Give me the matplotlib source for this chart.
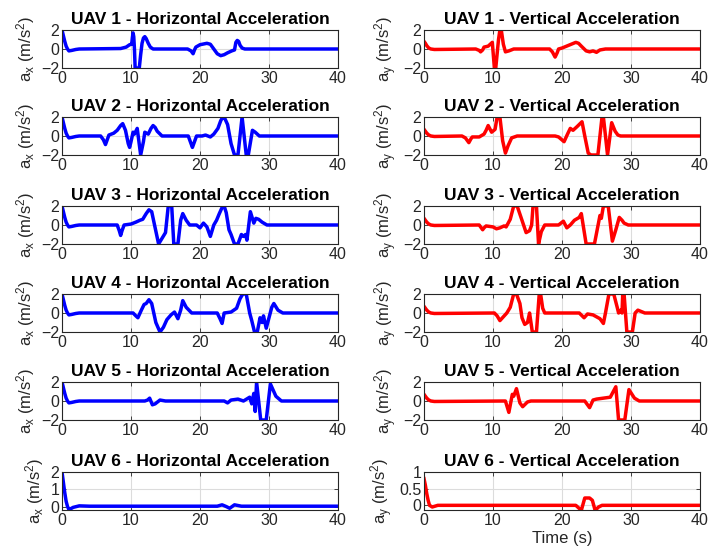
import numpy as np
import matplotlib.pyplot as plt

plt.rcParams['font.family'] = ['Liberation Sans', 'DejaVu Sans']
plt.rcParams['mathtext.fontset'] = 'custom'
plt.rcParams['mathtext.rm'] = 'Liberation Sans'
plt.rcParams['mathtext.it'] = 'Liberation Sans'

######### DATA #######################################

## UAV 1
uav1_ax_t = [0, 0.2, 0.4, 0.6, 0.8, 1.0, 1.4, 2.0, 2.5, 8.5, 9.3, 9.8, 10.1, 10.2, 10.3, 10.4, 10.5, 10.6, 11.2, 11.4, 11.6, 11.8, 12.0, 12.2, 12.5, 12.8, 13.2, 18.2, 18.7, 19.0, 19.2, 19.4, 20.0, 21.0, 21.5, 22.0, 22.5, 23.0, 23.5, 24.0, 24.6, 25.0, 25.2, 25.4, 25.6, 25.8, 26.1, 26.5, 40]
uav1_ax = [2.0, 1.4, 0.8, 0.3, 0.0, -0.2, -0.15, -0.05, 0.0, 0.05, 0.2, 0.45, 0.5, 1.2, 1.7, 1.3, 0.0, -2.0, -2.0, -0.6, 0.6, 1.15, 1.3, 1.1, 0.6, 0.2, 0.0, 0.0, -0.2, -0.5, -0.1, 0.2, 0.45, 0.6, 0.5, 0.0, -0.5, -0.7, -0.6, -0.4, -0.2, -0.1, 0.7, 0.9, 0.8, 0.4, 0.1, 0.0, 0.0]

uav1_ay_t = [0, 0.2, 0.4, 0.7, 1.0, 1.5, 7.5, 8.0, 8.2, 8.5, 8.7, 9.3, 9.9, 10.2, 10.4, 10.8, 11.0, 11.2, 11.5, 11.8, 12.3, 13.0, 18.2, 18.6, 19.0, 19.3, 19.5, 20.0, 21.0, 22.0, 22.4, 22.8, 23.5, 24.0, 24.5, 25.0, 25.5, 26.3, 40]
uav1_ay = [0.8, 0.6, 0.35, 0.1, 0.0, -0.05, 0.0, -0.15, -0.3, -0.1, 0.2, 0.3, 0.7, -2.0, -2.0, 1.0, 2.0, 2.0, 0.5, -0.3, -0.2, 0.0, 0.0, -0.3, -0.85, -0.4, 0.0, 0.1, 0.4, 0.7, 0.6, 0.3, -0.2, -0.3, -0.2, -0.35, -0.1, 0.0, 0.0]

## UAV 2
uav2_ax_t = [0, 0.2, 0.4, 0.6, 0.8, 1.0, 1.4, 2.0, 2.5, 5.6, 6.0, 6.3, 6.6, 6.8, 7.5, 8.0, 8.5, 8.8, 9.2, 9.6, 9.8, 10.0, 10.3, 10.5, 10.9, 11.4, 11.8, 12.0, 12.5, 12.9, 13.2, 13.5, 13.8, 14.5, 18.3, 18.7, 18.9, 19.2, 19.5, 20.3, 20.8, 21.5, 22.0, 22.6, 23.0, 23.3, 23.5, 24.0, 24.5, 25.0, 25.5, 26.1, 26.7, 27.0, 27.6, 28.0, 28.6, 40]
uav2_ax = [2.0, 1.4, 0.8, 0.3, 0.0, -0.2, -0.15, -0.05, 0.0, 0.0, -0.4, -0.9, -0.3, 0.1, 0.3, 0.6, 1.1, 1.3, 0.6, -0.8, -1.2, -0.6, 0.4, 0.2, 0.8, -2.0, -0.6, 0.4, 0.2, 0.8, 1.1, 0.9, 0.5, 0.0, 0.0, -0.8, -1.2, -0.6, 0.0, 0.0, 0.1, -0.1, 0.2, 0.8, 1.6, 2.0, 2.0, 1.2, -0.8, -2.0, -2.0, 2.0, -2.0, -2.0, 0.6, 0.4, 0.0, 0.0]

uav2_ay_t = [0, 0.2, 0.4, 0.7, 1.0, 1.5, 5.5, 6.0, 6.5, 6.8, 7.0, 8.0, 8.7, 9.0, 9.3, 9.8, 10.3, 10.6, 11.0, 11.4, 11.8, 12.2, 12.7, 13.5, 18.5, 19.0, 19.5, 20.3, 20.8, 21.2, 21.6, 22.2, 22.9, 23.3, 23.8, 24.2, 25.2, 25.8, 26.0, 26.6, 27.2, 27.7, 28.1, 28.5, 40]
uav2_ay = [0.7, 0.5, 0.3, 0.1, 0.0, -0.05, 0.0, -0.2, -0.7, -0.3, -0.1, -0.1, 0.2, 0.6, 1.1, 0.4, 0.7, 2.0, 2.0, -0.5, -1.8, -1.0, -0.2, 0.0, 0.0, 0.0, -0.1, -0.6, 0.2, 0.8, 0.6, 1.0, 1.5, 0.0, -1.8, -2.0, -2.0, 2.0, 2.0, -2.0, 1.4, 0.5, 0.1, 0.0, 0.0]

## UAV 3
uav3_ax_t = [0, 0.2, 0.4, 0.6, 0.8, 1.0, 1.4, 2.0, 2.5, 8.0, 8.3, 8.5, 8.7, 9.0, 10.0, 10.7, 11.3, 11.7, 12.2, 12.6, 13.0, 14.0, 15.0, 15.4, 15.9, 16.2, 16.8, 17.2, 17.5, 18.0, 18.5, 19.5, 20.0, 20.5, 21.0, 21.5, 22.0, 22.4, 22.8, 23.3, 23.5, 23.8, 24.2, 24.5, 25.0, 25.5, 26.0, 26.3, 26.6, 26.8, 27.3, 27.8, 28.1, 28.5, 29.0, 29.7, 40]
uav3_ax = [2.0, 1.4, 0.8, 0.3, 0.0, -0.2, -0.15, -0.05, 0.0, 0.0, -0.6, -1.1, -0.6, 0.0, 0.1, 0.3, 0.5, 0.6, 1.2, 1.6, 1.4, -2.0, -0.8, 2.0, 2.0, -2.0, -2.0, 0.5, 1.2, 0.5, 0.0, 0.0, -0.3, 0.2, -0.2, -1.2, 0.0, 0.5, 1.2, 2.0, 2.0, 1.3, -0.5, -1.0, -2.0, -2.0, -1.0, -1.2, -1.0, -1.6, 1.4, 0.2, 0.7, 0.6, 0.3, 0.0, 0.0]

uav3_ay_t = [0, 0.2, 0.4, 0.7, 1.0, 1.5, 8.0, 8.3, 8.5, 8.7, 9.0, 10.0, 10.5, 11.0, 11.6, 11.9, 12.5, 13.0, 13.5, 14.2, 14.8, 15.3, 15.6, 15.8, 16.3, 16.6, 17.0, 17.5, 18.5, 19.5, 20.2, 20.7, 21.2, 21.8, 22.5, 22.8, 23.5, 24.7, 25.5, 25.7, 26.0, 26.7, 27.3, 27.8, 28.3, 28.7, 29.0, 29.6, 40]
uav3_ay = [0.7, 0.5, 0.3, 0.1, 0.0, -0.05, 0.0, -0.3, -0.5, -0.3, -0.1, -0.2, -0.4, -0.3, -0.1, -0.2, 0.6, 2.0, 2.0, 0.5, -0.8, -0.6, 0.0, 2.0, 2.0, -2.0, -0.7, 0.0, 0.0, 0.0, 0.4, -0.3, 0.0, 0.5, 0.8, 1.2, -2.0, -2.0, 1.0, 0.7, 2.0, 2.0, -1.7, -0.5, 0.8, 0.5, 0.2, 0.0, 0.0]

## UAV 4
uav4_ax_t = [0, 0.2, 0.4, 0.6, 0.8, 1.0, 1.4, 2.0, 2.5, 10.3, 10.7, 11.0, 11.5, 11.9, 12.2, 12.6, 13.0, 13.6, 14.2, 14.7, 15.2, 15.8, 16.3, 16.8, 17.2, 17.5, 18.0, 18.8, 22.5, 22.9, 23.2, 23.5, 24.5, 25.3, 25.8, 26.2, 26.7, 27.2, 27.5, 27.9, 28.3, 28.7, 29.0, 29.2, 29.6, 30.0, 30.4, 30.7, 31.3, 32.0, 40]
uav4_ax = [2.0, 1.4, 0.8, 0.3, 0.0, -0.2, -0.15, -0.05, 0.0, 0.0, -0.3, -0.5, 0.3, 0.9, 1.0, 1.4, 1.0, -1.0, -2.0, -1.5, -0.7, -0.2, 0.1, -0.6, 0.3, 1.3, 0.6, 0.0, 0.0, -0.6, -1.1, 0.0, 0.1, 0.5, 1.5, 2.0, 2.0, 0.0, -0.8, -2.0, -2.0, -0.5, -1.0, -0.3, -1.6, -0.5, 0.6, 1.0, 0.3, 0.0, 0.0]

uav4_ay_t = [0, 0.2, 0.4, 0.7, 1.0, 1.5, 10.2, 10.6, 11.0, 11.5, 12.0, 12.5, 13.0, 13.4, 13.9, 14.2, 14.6, 15.0, 15.3, 15.7, 16.3, 16.7, 16.9, 17.2, 17.5, 18.5, 22.5, 23.2, 23.7, 24.5, 25.5, 26.0, 26.3, 26.8, 27.5, 28.0, 28.2, 28.5, 28.7, 28.8, 29.0, 29.4, 30.2, 30.6, 31.0, 32.0, 40]
uav4_ay = [0.7, 0.5, 0.3, 0.1, 0.0, -0.05, 0.0, -0.3, -0.8, -0.4, 0.0, 0.6, 2.0, 2.0, 1.0, -0.5, -1.2, -1.0, 0.0, -2.0, -2.0, 2.0, 2.0, 0.5, 0.0, 0.0, 0.0, -0.5, -0.1, -0.2, -0.6, -1.1, 0.0, 2.0, 2.0, 0.6, 0.0, 0.3, 0.0, 2.0, 2.0, -2.0, -2.0, 0.0, 0.3, 0.0, 0.0]

## UAV 5
uav5_ax_t = [0, 0.2, 0.4, 0.6, 0.8, 1.0, 1.4, 2.0, 2.5, 12.0, 12.4, 12.7, 13.1, 13.5, 14.2, 15.0, 23.5, 24.0, 24.5, 25.5, 26.3, 27.2, 27.5, 27.8, 28.0, 28.2, 28.8, 29.6, 30.2, 31.0, 31.8, 40]
uav5_ax = [2.0, 1.4, 0.8, 0.3, 0.0, -0.2, -0.15, -0.05, 0.0, 0.0, 0.1, 0.3, -0.4, -0.3, 0.1, 0.0, 0.0, -0.2, 0.1, 0.2, 0.0, 0.4, -0.3, 0.8, -1.1, 2.0, -2.0, -2.0, 1.8, 0.5, 0.0, 0.0]

uav5_ay_t = [0, 0.2, 0.4, 0.7, 1.0, 1.5, 11.8, 12.3, 12.8, 13.0, 13.4, 13.9, 14.3, 15.0, 15.5, 23.3, 24.0, 24.5, 25.0, 26.0, 27.0, 27.8, 28.2, 29.1, 29.7, 30.5, 31.2, 40]
uav5_ay = [0.7, 0.5, 0.3, 0.1, 0.0, -0.05, 0.0, -1.2, 0.7, 0.5, 1.3, -0.2, -0.6, -0.1, 0.0, 0.0, -0.7, 0.1, 0.2, 0.3, 0.4, 1.5, -2.0, -2.0, 1.2, 0.3, 0.0, 0.0]

## UAV 6
uav6_ax_t = [0, 0.2, 0.4, 0.6, 0.8, 1.0, 1.3, 1.6, 2.5, 4.0, 22.5, 23.2, 23.8, 24.3, 25.0, 26.0, 40]
uav6_ax = [2.0, 1.4, 0.8, 0.3, 0.0, -0.17, -0.12, -0.05, 0.04, 0.02, 0.02, 0.1, 0.0, -0.1, 0.1, 0.02, 0.02]

uav6_ay_t = [0, 0.2, 0.4, 0.6, 0.8, 1.2, 2.0, 22.0, 22.8, 23.3, 24.0, 24.4, 24.8, 25.3, 25.8, 40]
uav6_ay = [0.8, 0.6, 0.35, 0.15, 0.0, -0.05, 0.0, 0.0, -0.15, 0.22, 0.22, 0.15, -0.15, -0.05, 0.0, 0.0]

horiz = [(uav1_ax_t, uav1_ax), (uav2_ax_t, uav2_ax), (uav3_ax_t, uav3_ax),
         (uav4_ax_t, uav4_ax), (uav5_ax_t, uav5_ax), (uav6_ax_t, uav6_ax)]
vert = [(uav1_ay_t, uav1_ay), (uav2_ay_t, uav2_ay), (uav3_ay_t, uav3_ay),
        (uav4_ay_t, uav4_ay), (uav5_ay_t, uav5_ay), (uav6_ay_t, uav6_ay)]

########################################

W, H = 711, 554
fig = plt.figure(figsize=(W / 100, H / 100), dpi=100)

row_tops = [30, 117, 206, 294, 382, 472]
ax_h = 38
col_left = [62, 424]
col_w = [276, 276]


def style_axes(ax):
    ax.set_xlim(0, 40)
    ax.set_xticks([0, 10, 20, 30, 40])
    ax.grid(True, color='#dcdcdc', linewidth=0.8)
    ax.set_axisbelow(True)
    ax.tick_params(direction='in', length=3, width=0.6, labelsize=11.5,
                   top=True, right=True, pad=2, colors='#262626')
    for s in ax.spines.values():
        s.set_linewidth(0.8)
        s.set_color('#262626')


for i in range(6):
    for j, (series, color, kind, lab) in enumerate([
            (horiz[i], 'blue', 'Horizontal', 'x'),
            (vert[i], 'red', 'Vertical', 'y')]):
        left = col_left[j] / W
        bottom = 1 - (row_tops[i] + ax_h) / H
        ax = fig.add_axes([left, bottom, col_w[j] / W, ax_h / H])
        ax.plot(series[0], series[1], color=color, linewidth=2.5,
                solid_joinstyle='round')
        style_axes(ax)
        if i < 5:
            ax.set_ylim(-2, 2)
            ax.set_yticks([-2, 0, 2])
        elif j == 0:
            ax.set_ylim(-0.2, 2)
            ax.set_yticks([0, 1, 2])
        else:
            ax.set_ylim(-0.14, 1)
            ax.set_yticks([0, 0.5, 1])
            ax.set_yticklabels(['0', '0.5', '1'])
        ax.set_title('UAV %d - %s Acceleration' % (i + 1, kind),
                     fontsize=12.5, fontweight='bold', pad=4)
        ax.set_ylabel(r'a$_\mathregular{%s}$ (m/s$^\mathregular{2}$)' % lab,
                      fontsize=12, color='#262626', labelpad=3)
        if i == 5 and j == 1:
            ax.set_xlabel('Time (s)', fontsize=12, color='#262626', labelpad=2)

plt.savefig('out.png', dpi=100)
